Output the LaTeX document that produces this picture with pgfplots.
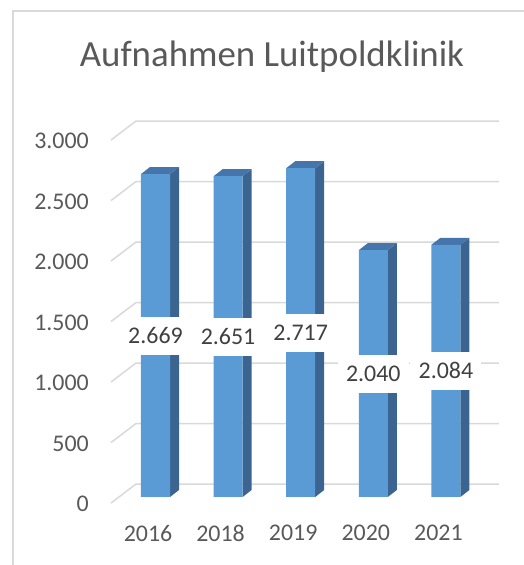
\documentclass[border=0pt]{standalone}
\usepackage{fontspec}
\setmainfont{Carlito}
\usepackage{pgfplots}
\pgfplotsset{compat=1.18}
\usepackage{pgfplotstable}
\definecolor{barfront}{HTML}{5B9BD5}
\definecolor{bartop}{HTML}{4575AA}
\definecolor{barside}{HTML}{3B6590}
\definecolor{gridc}{HTML}{D9D9D9}
\definecolor{labc}{HTML}{595959}
\definecolor{datc}{HTML}{404040}

\pgfplotstableread{
x v
0 2669
1 2651
2 2717
3 2040
4 2084
}\datatable

\begin{document}
\begin{tikzpicture}
\path[use as bounding box] (0,0) rectangle (524bp,565bp);
\draw[gridc, line width=1.5bp] (13bp,0) -- (13bp,554bp) -- (524bp,554bp);
\node[anchor=base, text=labc, font=\fontsize{37}{44}\selectfont, inner sep=0pt] at (272bp,498bp) {Aufnahmen Luitpoldklinik};
\begin{axis}[
  at={(119.2bp,68bp)}, anchor=south west,
  scale only axis, width=363bp, height=363bp,
  xmin=-0.5, xmax=4.5, ymin=0, ymax=3000,
  clip=false,
  axis line style={draw=none},
  major tick length=0pt,
  tick style={draw=none},
  xtick={0,...,4},
  xticklabels={2016,2018,2019,2020,2021},
  ytick={0,500,...,3000},
  yticklabels={0,500,1.000,1.500,2.000,2.500,3.000},
  x tick label style={anchor=north, inner sep=0pt, xshift=-7.5bp, yshift=-28bp},
  y tick label style={anchor=east, inner sep=0pt, xshift=-30.2bp, yshift=-7bp},
  tick label style={text=labc, font=\fontsize{24}{29}\selectfont},
]
% perspective gridlines (back wall + left wall)
\addplot[gridc, line width=1.5bp] coordinates {(-0.613,-50) (-0.269,107) (4.731,107)};
\addplot[gridc, line width=1.5bp] coordinates {(-0.613,450) (-0.269,607) (4.731,607)};
\addplot[gridc, line width=1.5bp] coordinates {(-0.613,950) (-0.269,1107) (4.731,1107)};
\addplot[gridc, line width=1.5bp] coordinates {(-0.613,1450) (-0.269,1607) (4.731,1607)};
\addplot[gridc, line width=1.5bp] coordinates {(-0.613,1950) (-0.269,2107) (4.731,2107)};
\addplot[gridc, line width=1.5bp] coordinates {(-0.613,2450) (-0.269,2607) (4.731,2607)};
\addplot[gridc, line width=1.5bp] coordinates {(-0.613,2950) (-0.269,3107) (4.731,3107)};
% side faces
\addplot[fill=barside, draw=none] coordinates {(0.2,0) (0.324,58) (0.324,2727) (0.2,2669)};
\addplot[fill=barside, draw=none] coordinates {(1.2,0) (1.324,58) (1.324,2709) (1.2,2651)};
\addplot[fill=barside, draw=none] coordinates {(2.2,0) (2.324,58) (2.324,2775) (2.2,2717)};
\addplot[fill=barside, draw=none] coordinates {(3.2,0) (3.324,58) (3.324,2098) (3.2,2040)};
\addplot[fill=barside, draw=none] coordinates {(4.2,0) (4.324,58) (4.324,2142) (4.2,2084)};
% top faces
\addplot[fill=bartop, draw=none] coordinates {(-0.2,2669) (0.2,2669) (0.324,2727) (-0.076,2727)};
\addplot[fill=bartop, draw=none] coordinates {(0.8,2651) (1.2,2651) (1.324,2709) (0.924,2709)};
\addplot[fill=bartop, draw=none] coordinates {(1.8,2717) (2.2,2717) (2.324,2775) (1.924,2775)};
\addplot[fill=bartop, draw=none] coordinates {(2.8,2040) (3.2,2040) (3.324,2098) (2.924,2098)};
\addplot[fill=bartop, draw=none] coordinates {(3.8,2084) (4.2,2084) (4.324,2142) (3.924,2142)};
% front faces
\addplot[ybar, bar width=0.4, fill=barfront, draw=none] table[x=x,y=v]{\datatable};
% data labels
\addplot[draw=none, mark=none, point meta=explicit,
  nodes near coords={\pgfmathprintnumber[assume math mode=true,1000 sep={.}]{\pgfplotspointmeta}},
  every node near coord/.append style={anchor=center, fill=white, inner sep=0pt,
    minimum width=71bp, minimum height=38bp, text=datc, font=\fontsize{24}{29}\selectfont}]
  table[x=x, y expr=\thisrow{v}/2, meta=v]{\datatable};
\end{axis}
\end{tikzpicture}
\end{document}
